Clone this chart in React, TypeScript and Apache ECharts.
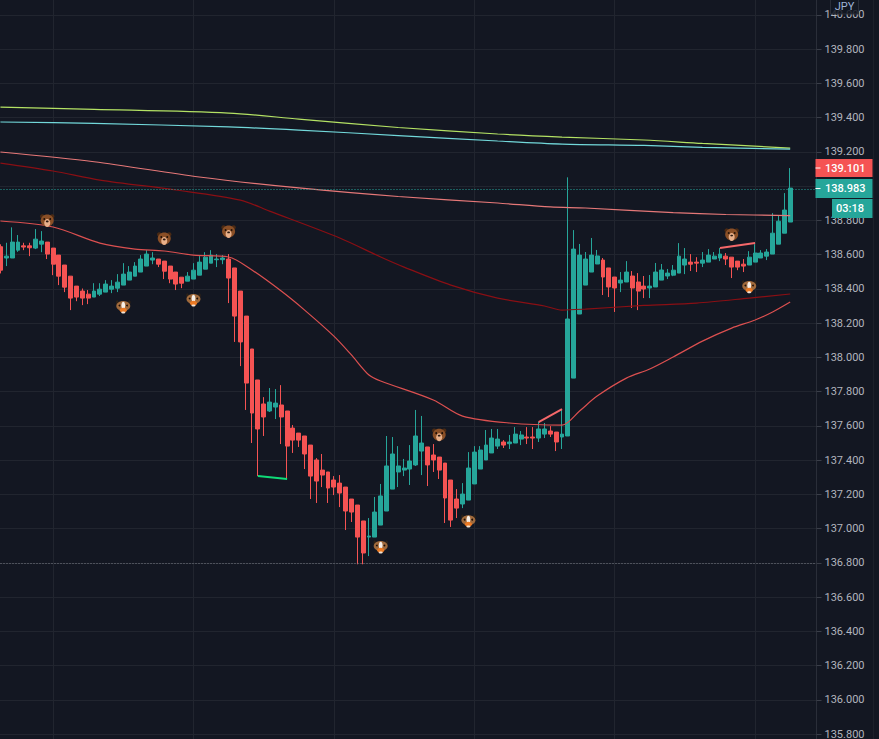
import React, { useEffect, useRef } from "react";
import * as echarts from "echarts";

// [open, close, low, high]
const candles: number[][] = [
  [138.646,138.509,138.49,138.66],[138.58,138.591,138.533,138.669],[138.58,138.673,138.58,138.759],[138.626,138.673,138.616,138.714],
  [138.651,138.644,138.626,138.669],[138.651,138.64,138.591,138.669],[138.638,138.69,138.632,138.749],[138.661,138.679,138.614,138.737],
  [138.673,138.603,138.574,138.673],[138.638,138.544,138.48,138.638],[138.597,138.474,138.422,138.597],[138.539,138.41,138.381,138.539],
  [138.474,138.346,138.276,138.474],[138.416,138.352,138.328,138.416],[138.387,138.346,138.305,138.402],[138.369,138.346,138.311,138.393],
  [138.352,138.387,138.352,138.433],[138.369,138.398,138.358,138.433],[138.381,138.428,138.381,138.451],[138.398,138.416,138.375,138.451],
  [138.404,138.439,138.381,138.486],[138.422,138.486,138.422,138.55],[138.451,138.498,138.451,138.533],[138.474,138.533,138.474,138.556],
  [138.498,138.574,138.498,138.597],[138.533,138.603,138.533,138.626],[138.568,138.58,138.544,138.614],[138.574,138.544,138.527,138.574],
  [138.562,138.503,138.457,138.562],[138.533,138.457,138.433,138.533],[138.498,138.428,138.393,138.498],[138.468,138.433,138.404,138.468],
  [138.445,138.474,138.445,138.498],[138.457,138.509,138.457,138.55],[138.48,138.556,138.48,138.591],[138.515,138.585,138.515,138.614],
  [138.55,138.597,138.55,138.626],[138.57,138.574,138.527,138.603],[138.57,138.58,138.544,138.597],[138.574,138.463,138.317,138.603],
  [138.522,138.241,138.09,138.522],[138.387,138.09,137.949,138.387],[138.241,137.85,137.693,138.241],[138.049,137.675,137.5,138.049],
  [137.868,137.582,137.307,137.868],[137.728,137.652,137.541,137.768],[137.687,137.739,137.681,137.821],[137.71,137.733,137.64,137.815],
  [137.722,137.652,137.494,137.838],[137.687,137.482,137.292,137.687],[137.587,137.517,137.442,137.605],[137.558,137.517,137.477,137.558],
  [137.541,137.436,137.348,137.541],[137.488,137.307,137.173,137.488],[137.401,137.278,137.15,137.412],[137.342,137.313,137.243,137.436],
  [137.331,137.237,137.15,137.331],[137.284,137.243,137.196,137.307],[137.266,137.208,137.126,137.313],[137.243,137.103,136.992,137.243],
  [137.173,137.097,137.039,137.173],[137.138,136.951,136.792,137.138],[137.045,136.858,136.792,137.045],[136.951,136.957,136.84,137.062],
  [136.951,137.097,136.951,137.185],[137.021,137.191,137.021,137.261],[137.103,137.366,137.103,137.541],[137.231,137.436,137.231,137.535],
  [137.331,137.366,137.243,137.482],[137.342,137.354,137.307,137.407],[137.348,137.395,137.255,137.488],[137.372,137.541,137.366,137.693],
  [137.453,137.5,137.313,137.658],[137.477,137.372,137.249,137.477],[137.43,137.401,137.331,137.494],[137.418,137.342,137.29,137.418],
  [137.383,137.179,137.033,137.383],[137.284,137.05,137.01,137.284],[137.173,137.12,137.062,137.231],[137.144,137.202,137.12,137.266],
  [137.167,137.354,137.167,137.447],[137.261,137.447,137.261,137.482],[137.348,137.459,137.348,137.482],[137.401,137.488,137.401,137.576],
  [137.442,137.529,137.442,137.582],[137.482,137.523,137.465,137.582],[137.506,137.488,137.471,137.517],[137.496,137.506,137.465,137.547],
  [137.5,137.552,137.5,137.593],[137.523,137.547,137.488,137.57],[137.535,137.529,137.494,137.593],[137.535,137.529,137.465,137.593],
  [137.529,137.582,137.506,137.623],[137.552,137.582,137.529,137.617],[137.57,137.552,137.535,137.599],[137.564,137.506,137.453,137.564],
  [137.535,137.552,137.465,137.697],[137.541,138.224,137.541,139.051],[137.879,138.632,137.879,138.743],[138.253,138.597,138.253,138.662],
  [138.422,138.574,138.422,138.615],[138.498,138.597,138.498,138.697],[138.545,138.592,138.545,138.627],[138.568,138.469,138.364,138.58],
  [138.522,138.411,138.352,138.522],[138.469,138.405,138.265,138.469],[138.434,138.451,138.381,138.498],[138.44,138.498,138.44,138.562],
  [138.475,138.405,138.288,138.504],[138.44,138.387,138.276,138.492],[138.416,138.399,138.346,138.475],[138.405,138.416,138.346,138.481],
  [138.411,138.498,138.411,138.551],[138.451,138.51,138.451,138.545],[138.475,138.492,138.457,138.516],[138.48,138.509,138.474,138.539],
  [138.492,138.591,138.492,138.667],[138.539,138.574,138.486,138.638],[138.556,138.544,138.504,138.603],[138.556,138.55,138.498,138.585],
  [138.55,138.568,138.527,138.615],[138.556,138.597,138.556,138.632],[138.574,138.591,138.574,138.615],[138.58,138.603,138.562,138.638],
  [138.591,138.574,138.539,138.609],[138.585,138.527,138.463,138.585],[138.562,138.527,138.509,138.562],[138.544,138.533,138.498,138.574],
  [138.539,138.585,138.539,138.62],[138.556,138.609,138.556,138.661],[138.58,138.609,138.58,138.626],[138.591,138.615,138.568,138.632],
  [138.603,138.725,138.603,138.842],[138.661,138.795,138.661,138.827],[138.725,138.86,138.725,138.959],[138.79,138.988,138.79,139.105],
];
const emptyBars = 4;
const categories = Array.from({ length: candles.length + emptyBars }, (_, i) => "b" + i);

const maYellow = [[0,139.461],[16,139.448],[39,139.426],[51,139.391],[68,139.342],[85,139.304],[96,139.286],[110,139.269],[120,139.249],[135,139.222]];
const maTeal = [[0,139.374],[16,139.366],[39,139.345],[51,139.327],[68,139.295],[85,139.263],[96,139.245],[110,139.237],[120,139.226],[135,139.216]];
const maPink = [[0,139.199],[16,139.142],[34,139.053],[51,138.989],[68,138.939],[85,138.901],[94,138.878],[100,138.872],[115,138.845],[124,138.834],[135,138.828]];
const maDark = [[0,139.134],[9,139.088],[17,139.035],[30,138.977],[41,138.918],[46,138.854],[58,138.697],[65,138.586],[69,138.527],[77,138.422],[85,138.346],[93,138.3],[96,138.276],[100,138.282],[110,138.303],[119,138.317],[128,138.346],[135,138.37]];
const maRed = [[0,138.796],[9,138.761],[17,138.667],[23,138.632],[28,138.621],[33,138.597],[39,138.586],[43,138.51],[48,138.387],[52,138.276],[57,138.124],[60,138.014],[63,137.897],[65,137.862],[74,137.751],[79,137.657],[87,137.617],[96,137.605],[99,137.687],[102,137.774],[107,137.879],[111,137.932],[115,138.002],[120,138.095],[125,138.171],[129,138.218],[132,138.265],[135,138.323]];

const trendGreen = [[44,137.307],[49,137.29]];
const trendRedA = [[92,137.622],[96,137.698]];
const trendRedB = [[123,138.638],[129,138.667]];

const bears = [[8,138.796],[28,138.691],[39,138.732],[75,137.546],[125,138.714]];
const bulls = [[21,138.294],[33,138.335],[65,136.893],[80,137.044],[128,138.411]];

const lastPrice = 138.983;
const lowPrice = 136.8;
const labelRed = "139.101";
const labelLast = "138.983";
const labelTimer = "03:18";
const currency = "JPY";

const BG = "#131722";
const UP = "#26a69a";
const DOWN = "#f55353";
const GRID = "#21252f";
const AXIS_TEXT = "#b2b5be";
const FONT = "Roboto";
const HIDDEN_LABELS = [135.6, 139.0, 140.2];

function drawBear(x: number, y: number) {
  const c = (cx: number, cy: number, r: number, fill: string) => ({ type: "circle", shape: { cx: x + cx, cy: y + cy, r }, style: { fill } });
  const e = (cx: number, cy: number, rx: number, ry: number, fill: string) => ({ type: "ellipse", shape: { cx: x + cx, cy: y + cy, rx, ry }, style: { fill } });
  return {
    type: "group",
    children: [
      c(-5, -4.5, 2.2, "#4a2a14"), c(5, -4.5, 2.2, "#4a2a14"),
      e(0, -0.5, 6.5, 6, "#8a4f26"),
      e(0, 2, 3, 4, "#e8b08a"),
      c(-3, -2, 0.9, "#1c0f08"), c(3, -2, 0.9, "#1c0f08"),
      e(0, 0.5, 1.4, 0.9, "#2c1a10"),
    ],
  };
}

function drawBull(x: number, y: number) {
  const c = (cx: number, cy: number, r: number, fill: string) => ({ type: "circle", shape: { cx: x + cx, cy: y + cy, r }, style: { fill } });
  const e = (cx: number, cy: number, rx: number, ry: number, fill: string) => ({ type: "ellipse", shape: { cx: x + cx, cy: y + cy, rx, ry }, style: { fill } });
  return {
    type: "group",
    children: [
      e(-6, -4.5, 1.3, 2.2, "#2b2118"), e(6, -4.5, 1.3, 2.2, "#2b2118"),
      e(0, -1, 7, 5, "#a06a3c"),
      e(0, -1.5, 1.9, 3.8, "#f6efe8"),
      c(-3.8, -1.5, 0.9, "#1c0f08"), c(3.8, -1.5, 0.9, "#1c0f08"),
      e(0, 3.2, 3.5, 2.5, "#ec7a24"),
      e(0, 5.4, 2, 1, "#f2e2d2"),
    ],
  };
}

const lineSeries = (data: number[][], color: string, width = 1.2) => ({
  type: "line",
  data,
  smooth: 0.3,
  showSymbol: false,
  silent: true,
  z: 4,
  lineStyle: { color, width },
});

const trendSeries = (data: number[][], color: string) => ({
  type: "line",
  data,
  showSymbol: false,
  silent: true,
  z: 5,
  lineStyle: { color, width: 2 },
});

const box = (x: number, y: number, w: number, h: number, fill: string, tick: boolean, text: string, textX: number) => [
  { type: "rect", z: 100, shape: { x, y, width: w, height: h }, style: { fill } },
  ...(tick ? [{ type: "rect", z: 101, shape: { x, y: y + h / 2 - 0.5, width: 5, height: 1 }, style: { fill: "#ffffff" } }] : []),
  { type: "text", z: 101, x: textX, y: y + h / 2, style: { text, fill: "#ffffff", font: `500 11px ${FONT}`, textAlign: "left", textVerticalAlign: "middle" } },
];

export default function App() {
  const ref = useRef<HTMLDivElement>(null);
  useEffect(() => {
    const chart = echarts.init(ref.current!, undefined, { renderer: "svg" });
    chart.setOption({
      animation: false,
      backgroundColor: BG,
      grid: { left: -2.5, right: 62.5, top: -19.5, bottom: -29.5, containLabel: false, outerBoundsMode: "none" },
      xAxis: {
        type: "category",
        data: categories,
        boundaryGap: true,
        axisLine: { show: false },
        axisTick: { show: false },
        axisLabel: { show: false },
        splitLine: {
          show: true,
          alignWithLabel: true,
          interval: (i: number) => (i - 9) % 24 === 0,
          lineStyle: { color: GRID, width: 1 },
        },
      },
      yAxis: {
        type: "value",
        position: "right",
        min: 135.6,
        max: 140.2,
        interval: 0.2,
        scale: true,
        axisLine: { show: true, lineStyle: { color: "#2a2e39" } },
        axisTick: { show: true, length: 5, lineStyle: { color: "#3a3e49" } },
        axisLabel: {
          color: AXIS_TEXT,
          fontFamily: FONT,
          fontSize: 11,
          margin: 8,
          formatter: (v: number) => (HIDDEN_LABELS.some((h) => Math.abs(h - v) < 1e-6) ? "" : v.toFixed(3)),
        },
        splitLine: { show: true, lineStyle: { color: GRID, width: 1 } },
      },
      series: [
        {
          type: "candlestick",
          data: candles,
          barWidth: 4.4,
          z: 3,
          silent: true,
          itemStyle: { color: UP, color0: DOWN, borderColor: UP, borderColor0: DOWN, borderWidth: 1 },
          markLine: {
            silent: true,
            symbol: "none",
            label: { show: false },
            data: [
              { yAxis: lastPrice, lineStyle: { color: UP, type: [1, 2], width: 1 } },
              { yAxis: lowPrice, lineStyle: { color: "#7a7e88", type: [1, 2], width: 1 } },
            ],
          },
        },
        lineSeries(maYellow, "#b4e264"),
        lineSeries(maTeal, "#72d8da"),
        lineSeries(maPink, "#e67878"),
        lineSeries(maDark, "#8a0f14"),
        lineSeries(maRed, "#dc5050"),
        trendSeries(trendGreen, "#0fdc78"),
        trendSeries(trendRedA, "#f6686a"),
        trendSeries(trendRedB, "#f6686a"),
        {
          type: "custom",
          data: bears,
          encode: { x: 0, y: 1 },
          silent: true,
          z: 6,
          renderItem: (_: any, api: any) => {
            const p = api.coord([api.value(0), api.value(1)]);
            return drawBear(p[0], p[1]);
          },
        },
        {
          type: "custom",
          data: bulls,
          encode: { x: 0, y: 1 },
          silent: true,
          z: 6,
          renderItem: (_: any, api: any) => {
            const p = api.coord([api.value(0), api.value(1)]);
            return drawBull(p[0], p[1]);
          },
        },
      ],
      graphic: [
        { type: "line", z: 50, shape: { x1: 873.5, y1: 0, x2: 873.5, y2: 739 }, style: { stroke: "#1c202a", lineWidth: 1 } },
        ...box(815.5, 159, 57, 18, DOWN, true, labelRed, 825),
        ...box(815.5, 179, 57, 19, UP, true, labelLast, 825),
        ...box(832, 199, 40.5, 19, UP, false, labelTimer, 836),
        { type: "rect", z: 100, shape: { x: 830.5, y: -1, width: 28, height: 15 }, style: { fill: "rgba(19,23,34,0.85)", stroke: "#2a2e39", lineWidth: 1 } },
        { type: "text", z: 101, x: 844.5, y: 6.5, style: { text: currency, fill: "#9fb4d8", font: `11px ${FONT}`, textAlign: "center", textVerticalAlign: "middle" } },
      ],
    });
    return () => chart.dispose();
  }, []);
  return <div ref={ref} style={{ position: "fixed", left: 0, top: 0, width: 879, height: 739 }} />;
}
